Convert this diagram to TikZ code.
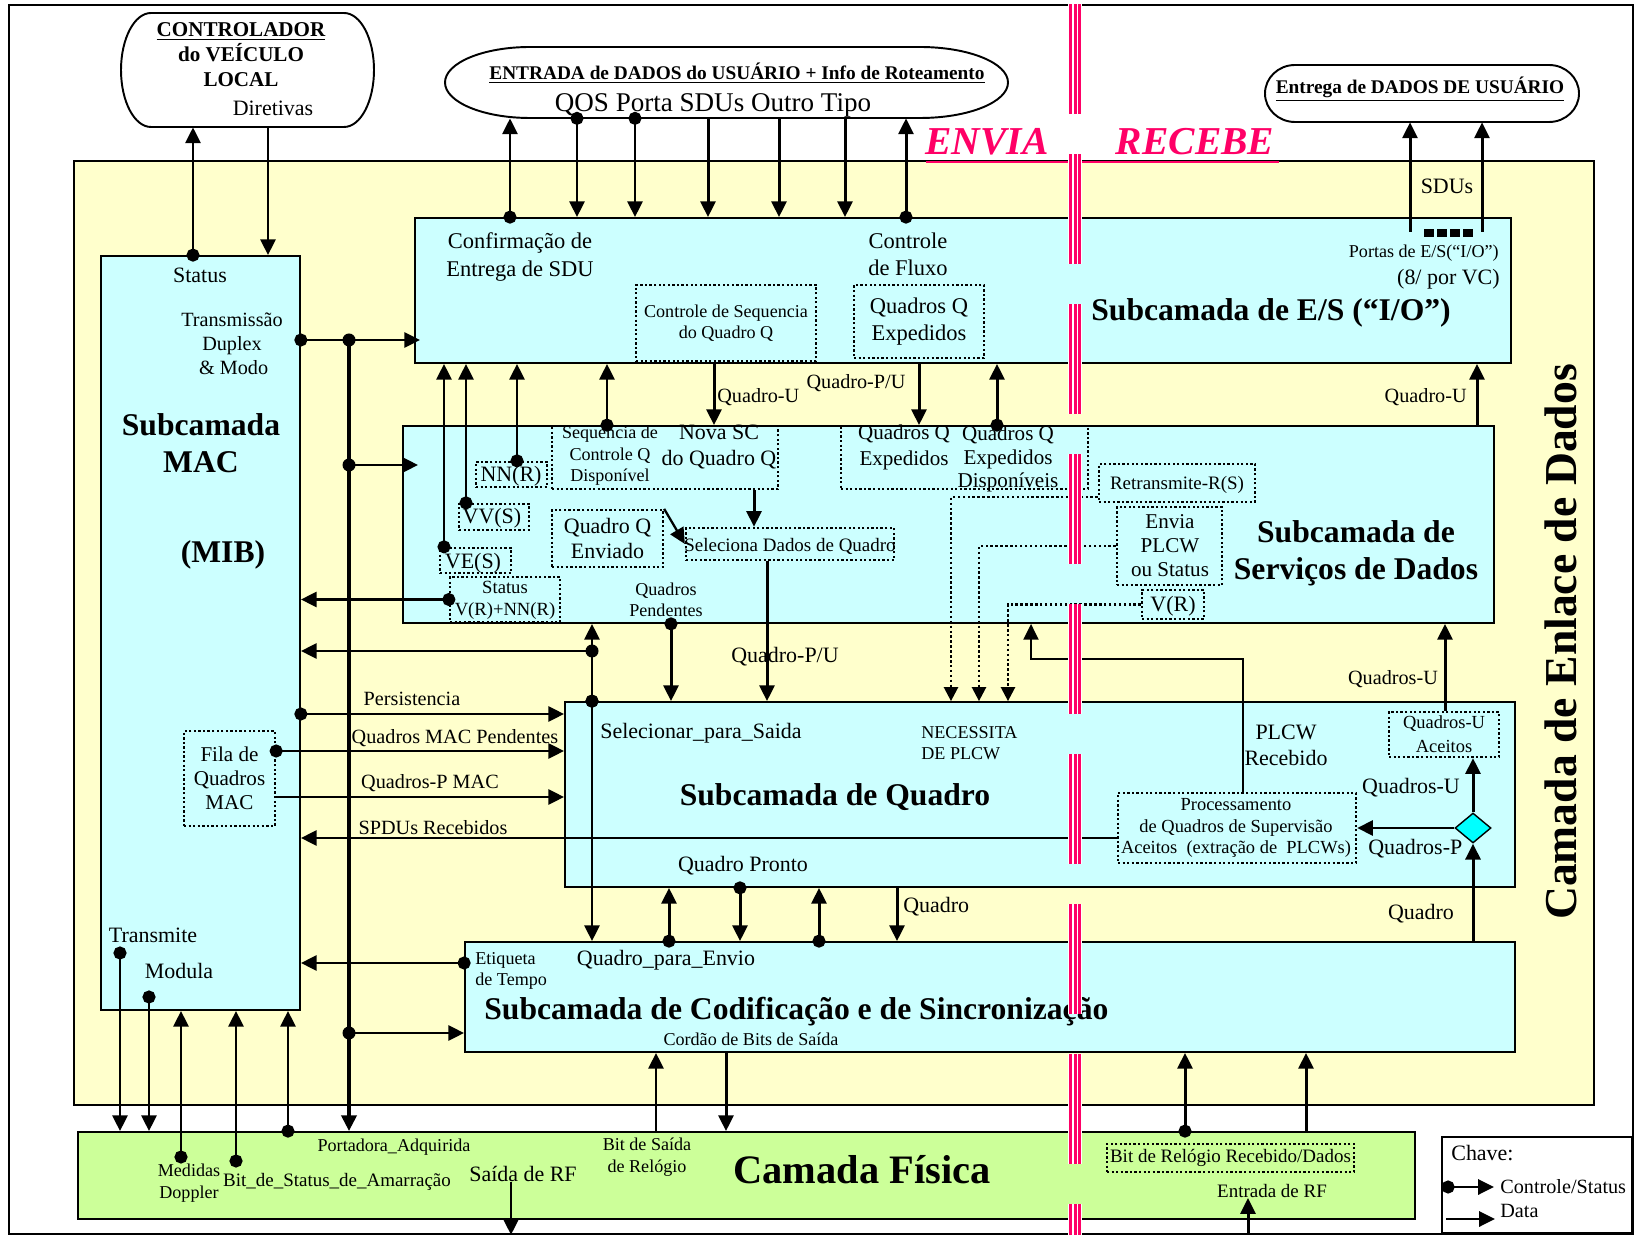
\documentclass[tikz,border=0pt]{standalone}
\usepackage{fontspec}
\setmainfont{Liberation Serif}
\usetikzlibrary{arrows.meta,fit,shapes.geometric}

\definecolor{enlace}{HTML}{FFFFCC}
\definecolor{subcam}{HTML}{CCFFFF}
\definecolor{fisica}{HTML}{CCFF99}
\definecolor{divisa}{HTML}{FF0066}
\definecolor{losango}{HTML}{00FFFF}

\tikzset{
  layer/.style={draw, line width=1pt, fill=subcam, inner sep=0pt},
  pontilhado/.style={draw, line width=1.3pt, dash pattern=on 1.3pt off 1.3pt, inner sep=0pt},
  term/.style={draw, line width=1.1pt, fill=white},
  ctl/.style={line width=1.7pt, {Circle[length=7.4pt]}-{Triangle[length=9pt,width=8.5pt]}, shorten <=-3.7pt},
  dat/.style={line width=1.7pt, -{Triangle[length=9pt,width=8.5pt]}},
  pdat/.style={line width=1.4pt, dash pattern=on 1.4pt off 1.4pt, -{Triangle[length=8pt,width=8pt]}},
  jdot/.style={circle, fill, inner sep=0pt, minimum size=7.4pt},
  lbl/.style={font=\fontsize{12.5}{15}\selectfont, inner sep=0pt, align=center},
  mlbl/.style={font=\fontsize{11.5}{13.5}\selectfont, inner sep=0pt, align=center},
  sml/.style={font=\fontsize{10.3}{12.3}\selectfont, inner sep=0pt, align=center},
  ttl/.style={font=\fontsize{18}{21}\selectfont\bfseries, inner sep=0pt, align=center},
}

\begin{document}
\begin{tikzpicture}[x=0.02cm, y=-0.02cm]
\useasboundingbox (0,0) rectangle (1637,1236);

% Moldura
\node[draw, line width=1pt, inner sep=0pt, fit={(9,5) (1633,1234)}] (moldura) {};

% Controlador do veiculo local
\draw[term] (151,13) -- (344,13) arc[start angle=-90, end angle=90, x radius=30, y radius=57]
  -- (151,127) arc[start angle=90, end angle=270, x radius=30, y radius=57] -- cycle;
\node[fit={(121,13) (374,127)}, inner sep=0pt] (ctrl) {};
\node[font=\fontsize{12}{14.2}\selectfont\bfseries, inner sep=0pt, align=center] (tctrl) at (241,55)
  {\underline{CONTROLADOR}\\do VEÍCULO\\LOCAL};
\node[lbl] (tdiret) at (273,108) {Diretivas};

% Entrada de dados do usuario
\draw[term] (530,47) -- (920,47) arc[start angle=-90, end angle=90, x radius=88, y radius=35.5]
  -- (530,118) arc[start angle=90, end angle=270, x radius=85, y radius=35.5] -- cycle;
\node[fit={(445,47) (1008,118)}, inner sep=0pt] (entrada) {};
\node[font=\fontsize{11}{13}\selectfont\bfseries, inner sep=0pt] (tentrada) at (737,73)
  {\underline{ENTRADA de DADOS do USUÁRIO + Info de Roteamento}};
\node[font=\fontsize{15.4}{17}\selectfont, inner sep=0pt] (tqos) at (713,105) {QOS Porta SDUs Outro Tipo};

% Entrega de dados do usuario
\draw[term] (1295,65) -- (1549,65) arc[start angle=-90, end angle=90, x radius=30, y radius=28.5]
  -- (1295,122) arc[start angle=90, end angle=270, x radius=30, y radius=28.5] -- cycle;
\node[fit={(1265,65) (1579,122)}, inner sep=0pt] (entrega) {};
\node[font=\fontsize{11}{13}\selectfont\bfseries, inner sep=0pt] (tentrega) at (1420,89)
  {\underline{Entrega de DADOS DE USUÁRIO}};

% Camada de enlace
\node[draw, line width=1pt, fill=enlace, inner sep=0pt, fit={(74,161) (1594,1105)}] (enlace) {};
\node[ttl, font=\fontsize{26}{28}\selectfont\bfseries, rotate=90] (tenlace) at (1561,642) {Camada de Enlace de Dados};

% ENVIA / RECEBE
\node[anchor=base, text=divisa, font=\fontsize{22.5}{25}\selectfont\bfseries\itshape, inner sep=0pt] (envia) at (987,155) {ENVIA};
\node[anchor=base, text=divisa, font=\fontsize{22.5}{25}\selectfont\bfseries\itshape, inner sep=0pt] (recebe) at (1195,155) {RECEBE};
\draw[divisa, line width=1.5pt] (926,162) -- (1279,162);

% Subcamadas
\node[layer, fit={(101,256) (300,1010)}] (mac) {};
\node[layer, fit={(415,218) (1511,363)}] (es) {};
\node[layer, fit={(403,426) (1494,623)}] (ds) {};
\node[layer, fit={(565,702) (1515,887)}] (quadro) {};
\node[layer, fit={(465,942) (1515,1052)}] (cod) {};
\node[layer, fill=fisica, fit={(78,1132) (1415,1219)}] (fis) {};
\node[draw, line width=1pt, fill=white, inner sep=0pt, fit={(1442,1137) (1632,1233)}] (chave) {};

% Subcamada MAC
\node[lbl] (tstatusmac) at (200,275) {Status};
\node[mlbl] (ttdm) at (232,344) {Transmissão\\Duplex\\\,\& Modo};
\node[ttl] (tmac) at (201,443) {Subcamada\\MAC};
\node[ttl] (tmib) at (223,555) {(MIB)};
\node[pontilhado, fit={(184,731) (275,826)}] (fila) {};
\node[mlbl, font=\fontsize{12}{13.7}\selectfont] (tfila) at (fila) {Fila de\\Quadros\\MAC};
\node[lbl] (ttransmite) at (153,935) {Transmite};
\node[lbl] (tmodula) at (179,971) {Modula};

% Subcamada de E/S
\node[lbl, font=\fontsize{12.8}{15.4}\selectfont] (tconf) at (520,257) {Confirmação de\\Entrega de SDU};
\node[lbl, font=\fontsize{12.8}{15.4}\selectfont] (tfluxo) at (908,254) {Controle\\de Fluxo};
\node[pontilhado, fit={(636,285) (816,361)}] (seqq) {};
\node[sml] (tseqq) at (seqq) {Controle de Sequencia\\do Quadro Q};
\node[pontilhado, fit={(854,285) (984,358)}] (expq) {};
\node[lbl, font=\fontsize{12.8}{15.4}\selectfont] (texpq) at (expq) {Quadros Q\\Expedidos};
\node[ttl, anchor=west] (tes) at (1091,313) {Subcamada de E/S (“I/O”)};
\node[sml, anchor=east] (tportas) at (1499,253) {Portas de E/S(“I/O”)};
\node[lbl, anchor=east] (tvc) at (1500,279) {(8/ por VC)};
\node[lbl] (tsdus) at (1447,186) {SDUs};
\coordinate (portas) at (1447,232);
\foreach \x in {1429,1442,1455,1468}
  \fill (\x-5,229) rectangle (\x+5,237);

% Subcamada de servicos de dados
\node[pontilhado, fit={(476,462) (547,487)}] (nn) {};
\node[lbl] (tnn) at (511,476) {NN(R)};
\node[pontilhado, fit={(552,426) (778,489)}] (seqdisp) {};
\node[sml] (tseqdisp) at (610,456) {Sequencia de\\Controle Q\\Disponível};
\node[lbl, font=\fontsize{12.5}{14.8}\selectfont] (tnovasc) at (719,447) {Nova SC\\do Quadro Q};
\node[pontilhado, fit={(459,504) (529,530)}] (vv) {};
\node[lbl] (tvv) at (492,518) {VV(S)};
\node[pontilhado, fit={(440,548) (511,573)}] (ve) {};
\node[lbl] (tve) at (473,563) {VE(S)};
\node[pontilhado, fit={(450,577) (560,622)}] (statbox) {};
\node[sml, font=\fontsize{10.6}{12.5}\selectfont] (tstatv) at (505,600) {Status\\V(R)+NN(R)};
\node[pontilhado, fit={(552,510) (663,567)}] (enviado) {};
\node[lbl, font=\fontsize{12.5}{13.8}\selectfont] (tenviado) at (enviado) {Quadro Q\\Enviado};
\node[pontilhado, fit={(686,528) (894,560)}] (seleciona) {};
\node[sml, font=\fontsize{10.8}{12}\selectfont] (tseleciona) at (790,546) {Seleciona Dados de Quadro};
\node[sml] (tpend) at (666,600) {Quadros\\Pendentes};
\node[pontilhado, fit={(841,426) (1088,489)}] (expedidos) {};
\node[lbl, font=\fontsize{12}{14.8}\selectfont] (texp) at (904,447) {Quadros Q\\Expedidos};
\node[lbl, font=\fontsize{12}{13.5}\selectfont] (texpd) at (1008,459) {Quadros Q\\Expedidos\\Disponíveis};
\node[pontilhado, fit={(1099,464) (1255,502)}] (retrans) {};
\node[sml, font=\fontsize{10.8}{12}\selectfont] (tretrans) at (1177,485) {Retransmite-R(S)};
\node[pontilhado, fit={(1117,507) (1222,585)}] (enviaplcw) {};
\node[lbl, font=\fontsize{12}{13.7}\selectfont] (tenviaplcw) at (1170,546) {Envia\\PLCW\\ou Status};
\node[pontilhado, fit={(1142,590) (1204,619)}] (vr) {};
\node[lbl] (tvr) at (1173,606) {V(R)};
\node[ttl] (tds) at (1356,553) {Subcamada de\\Serviços de Dados};

% Subcamada de quadro
\node[lbl, anchor=west] (tsel) at (600,733) {Selecionar\_para\_Saida};
\node[sml, align=left, anchor=west] (tnec) at (921,743) {NECESSITA\\DE PLCW};
\node[ttl] (tquadro) at (835,797) {Subcamada de Quadro};
\node[lbl] (tpronto) at (743,866) {Quadro Pronto};
\node[lbl, font=\fontsize{12.5}{14.8}\selectfont] (tplcw) at (1286,745) {PLCW\\Recebido};
\node[pontilhado, fit={(1389,712) (1499,757)}] (aceitos) {};
\node[sml, font=\fontsize{10.5}{13.5}\selectfont] (taceitos) at (aceitos) {Quadros-U\\Aceitos};
\node[pontilhado, fit={(1118,793) (1356,863)}] (proc) {};
\node[sml, font=\fontsize{10.5}{12.3}\selectfont] (tproc) at (1236,828)
  {Processamento\\de Quadros de Supervisão\\Aceitos~ (extração de~ PLCWs)};
\node[diamond, draw, fill=losango, line width=0.8pt, minimum width=0.72cm, minimum height=0.6cm, inner sep=0pt] (losango) at (1473,828) {};
\node[lbl] (tqu3) at (1411,788) {Quadros-U};
\node[lbl, anchor=west] (tqp) at (1368,849) {Quadros-P};

% Subcamada de codificacao
\node[sml, align=left, anchor=west] (tetiq) at (475,971) {Etiqueta\\de Tempo};
\node[lbl] (tenvio) at (666,960) {Quadro\_para\_Envio};
\node[ttl, anchor=west] (tcod) at (484,1012) {Subcamada de Codificação e de Sincronização};
\node[sml] (tcordao) at (751,1039) {Cordão de Bits de Saída};

% Camada fisica
\node[sml] (tport) at (394,1147) {Portadora\_Adquirida};
\node[sml] (tdoppler) at (189,1183) {Medidas\\Doppler};
\node[sml, font=\fontsize{10.8}{12}\selectfont] (tamarr) at (337,1182) {Bit\_de\_Status\_de\_Amarração};
\node[lbl] (tsaidarf) at (523,1174) {Saída de RF};
\node[sml] (trelogio) at (647,1157) {Bit de Saída\\de Relógio};
\node[font=\fontsize{23}{25}\selectfont\bfseries, inner sep=0pt] (tfis) at (862,1170) {Camada Física};
\node[pontilhado, fit={(1107,1144) (1354,1172)}] (relog) {};
\node[sml, font=\fontsize{10.8}{12}\selectfont] (trelog) at (relog) {Bit de Relógio Recebido/Dados};
\node[sml, font=\fontsize{10.8}{12}\selectfont] (tentradarf) at (1272,1191) {Entrada de RF};

% Rotulos das ligacoes
\node[mlbl, anchor=west] (tqu1) at (717,397) {Quadro-U};
\node[mlbl] (tqpu1) at (856,383) {Quadro-P/U};
\node[mlbl, anchor=east] (tqu2) at (1467,397) {Quadro-U};
\node[lbl] (tqpu2) at (785,657) {Quadro-P/U};
\node[mlbl] (tqus) at (1393,679) {Quadros-U};
\node[mlbl] (tpers) at (412,699) {Persistencia};
\node[mlbl] (tqmp) at (455,738) {Quadros MAC Pendentes};
\node[mlbl] (tqpmac) at (430,783) {Quadros-P MAC};
\node[mlbl] (tspdu) at (433,828) {SPDUs Recebidos};
\node[lbl, anchor=west] (tq1) at (903,907) {Quadro};
\node[lbl] (tq2) at (1421,914) {Quadro};

% Controlador <-> MAC
\draw[ctl] (193,0 |- mac.north) -- (193,0 |- ctrl.south);
\draw[dat] (268,0 |- ctrl.south) -- (268,0 |- mac.north);

% Barramento de controle do MAC
\node[jdot] (j1) at (349,340) {};
\node[jdot] (j2) at (349,465) {};
\node[jdot] (j3) at (349,1033) {};
\draw[ctl] (mac.east |- j1) -- ([xshift=0.12cm]es.west |- j1);
\draw[dat, line width=2.4pt] (j1.center) -- (j1 |- fis.north);
\draw[dat] (j2.center) -- ([xshift=0.32cm]ds.west |- j2);
\draw[dat] (j3.center) -- (cod.west |- j3);

% Entrada <-> E/S
\draw[ctl] (510,0 |- es.north) -- (510,0 |- entrada.south);
\draw[ctl] (577,0 |- entrada.south) -- (577,0 |- es.north);
\draw[ctl] (635,0 |- entrada.south) -- (635,0 |- es.north);
\foreach \x in {708,779,845}
  \draw[dat] (\x,0 |- entrada.south) -- (\x,0 |- es.north);
\draw[ctl] (906,0 |- es.north) -- (906,0 |- entrada.south);

% E/S -> Entrega
\draw[dat] (1410,0 |- portas) -- (1410,0 |- entrega.south);
\draw[dat] (1482,0 |- portas) -- (1482,0 |- entrega.south);

% E/S <-> Servicos de dados
\draw[ctl] (444,0 |- ve.north) -- (444,0 |- es.south);
\draw[ctl] (466,0 |- vv.north) -- (466,0 |- es.south);
\draw[ctl] (517,0 |- nn.north) -- (517,0 |- es.south);
\draw[ctl] (607,0 |- ds.north) -- (607,0 |- es.south);
\draw[dat] (714,0 |- es.south) -- (714,0 |- ds.north);
\draw[dat] (919,0 |- es.south) -- (919,0 |- ds.north);
\draw[ctl] (997,0 |- ds.north) -- (997,0 |- es.south);
\draw[dat] (1477,0 |- ds.north) -- (1477,0 |- es.south);

% Dentro dos servicos de dados
\draw[dat] (754,0 |- seqdisp.south) -- (754,0 |- seleciona.north);
\draw[dat, line width=1.3pt] (enviado.north east) -- (seleciona.west);
\draw[ctl] (statbox.west) -- (mac.east |- statbox.west);

% Servicos de dados <-> Quadro
\draw[dat] (767,0 |- seleciona.south) -- (767,0 |- quadro.north);
\draw[ctl] (671,0 |- ds.south) -- (671,0 |- quadro.north);
\node[jdot] (j4) at (592,651) {};
\draw[ctl] (592,0 |- quadro.north) -- (592,0 |- ds.south);
\draw[ctl] (592,0 |- quadro.north) -- (592,0 |- cod.north);
\draw[dat] (j4.center) -- (mac.east |- j4);
\draw[pdat] (retrans.west |- 0,497) -| (951,0 |- quadro.north);
\draw[pdat] (enviaplcw.west) -| (979,0 |- quadro.north);
\draw[pdat] (vr.west) -| (1008,0 |- quadro.north);
\coordinate (dobra) at (1031,659);
\draw[dat, line width=1.3pt] (1243,0 |- proc.north) |- (dobra) -- (dobra |- ds.south);
\draw[dat] (1445,0 |- aceitos.north) -- (1445,0 |- ds.south);

% MAC <-> Quadro
\draw[ctl] (mac.east |- 0,714) -- (quadro.west |- 0,714);
\draw[ctl] (fila.east |- 0,751) -- (quadro.west |- 0,751);
\draw[dat] (fila.east |- 0,797) -- (quadro.west |- 0,797);
\draw[dat] (proc.west |- 0,838) -- (mac.east |- 0,838);

% Quadros recebidos
\draw[dat] (losango.north) -- (losango.north |- aceitos.south);
\draw[dat] (losango.west) -- (proc.east |- losango.west);
\draw[dat] (losango.south |- cod.north) -- (losango.south);

% Quadro <-> Codificacao
\draw[ctl] (669,0 |- cod.north) -- (669,0 |- quadro.south);
\draw[ctl] (740,0 |- quadro.south) -- (740,0 |- cod.north);
\draw[ctl] (819,0 |- cod.north) -- (819,0 |- quadro.south);
\draw[dat] (897,0 |- quadro.south) -- (897,0 |- cod.north);
\draw[ctl] (cod.west |- 0,963) -- (mac.east |- 0,963);

% Codificacao <-> Fisica
\draw[dat] (656,0 |- fis.north) -- (656,0 |- cod.south);
\draw[dat] (726,0 |- cod.south) -- (726,0 |- fis.north);
\draw[ctl] (1185,0 |- fis.north) -- (1185,0 |- cod.south);
\draw[dat] (1306,0 |- fis.north) -- (1306,0 |- cod.south);
\draw[dat] (1248,0 |- moldura.south) -- (1248,0 |- tentradarf.south);
\draw[dat] (511,0 |- tsaidarf.south) -- (511,0 |- moldura.south);

% MAC <-> Fisica
\draw[ctl] (120,953) -- (120,0 |- fis.north);
\draw[ctl] (149,997) -- (149,0 |- fis.north);
\draw[ctl] (181,1157) -- (181,0 |- mac.south);
\draw[ctl] (236,1161) -- (236,0 |- mac.south);
\draw[ctl] (288,0 |- fis.north) -- (288,0 |- mac.south);

% Chave
\node[lbl, anchor=west] (tchave) at (1451,1153) {Chave:};
\node[mlbl, anchor=west] (tcs) at (1500,1187) {Controle/Status};
\node[mlbl, anchor=west] (tdata) at (1500,1211) {Data};
\draw[ctl] ([xshift=0.14cm]chave.west |- tcs.west) -- ([xshift=-0.12cm]tcs.west);
\draw[dat] ([xshift=0.1cm]chave.west |- 0,1219) -- ([xshift=-0.1cm]tdata.west |- 0,1219);

% Divisa ENVIA / RECEBE
\draw[white, line width=7.6pt, dash pattern=on 2.2cm off 0.8cm] (1075,0 |- moldura.north) -- (1075,0 |- moldura.south);
\foreach \x in {1070.5,1075,1079.5}
  \draw[divisa, line width=1.7pt, dash pattern=on 2.2cm off 0.8cm] (\x,0 |- moldura.north) -- (\x,0 |- moldura.south);

\end{tikzpicture}
\end{document}
